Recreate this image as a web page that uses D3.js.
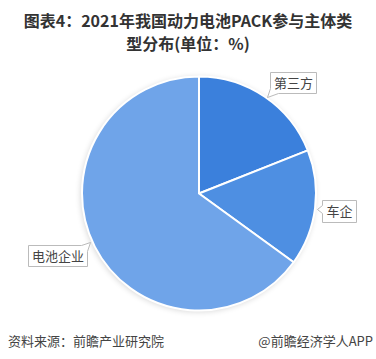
<!DOCTYPE html>
<html>
<head>
<meta charset="utf-8">
<script src="https://cdn.jsdelivr.net/npm/d3@7"></script>
<style>
  html, body { margin: 0; padding: 0; background: #fff; }
  svg { display: block; }
</style>
</head>
<body>
<svg id="chart" width="376" height="359"></svg>
<script>
// Share of participants in 2021 power-battery PACK market (%)
const categories = ["第三方", "车企", "电池企业"];
const shares = [19, 16, 65];
const colors = ["#3b80dc", "#4e8fe2", "#6fa4e9"];

const svg = d3.select("#chart");
const cx = 199, cy = 193.5, R = 117;
const font = "'Noto Sans CJK SC', 'Noto Sans', sans-serif";

// Title (two lines)
const title = svg.append("g")
  .attr("font-family", font)
  .attr("font-weight", "bold")
  .attr("font-size", 16)
  .attr("fill", "#333")
  .attr("text-anchor", "middle");
title.append("text").attr("x", 188).attr("y", 27).text("图表4：2021年我国动力电池PACK参与主体类");
title.append("text").attr("x", 188).attr("y", 50).text("型分布(单位：%)");

// Soft halo behind the pie
const defs = svg.append("defs");
const f = defs.append("filter").attr("id", "halo")
  .attr("x", "-20%").attr("y", "-20%").attr("width", "140%").attr("height", "140%");
f.append("feGaussianBlur").attr("in", "SourceAlpha").attr("stdDeviation", 3).attr("result", "b");
f.append("feOffset").attr("in", "b").attr("dx", -1).attr("dy", 1).attr("result", "o");
f.append("feComponentTransfer").attr("in", "o").attr("result", "s")
  .append("feFuncA").attr("type", "linear").attr("slope", 0.18);
const m = f.append("feMerge");
m.append("feMergeNode").attr("in", "s");
m.append("feMergeNode").attr("in", "SourceGraphic");

const data = categories.map((c, i) => ({ name: c, value: shares[i], color: colors[i] }));
const pie = d3.pie().value(d => d.value).sort(null);
const arc = d3.arc().innerRadius(0).outerRadius(R);
const arcs = pie(data);

const g = svg.append("g").attr("transform", `translate(${cx},${cy})`);
g.append("circle").attr("r", R).attr("fill", "#6fa4e9").attr("filter", "url(#halo)");
g.selectAll("path.slice")
  .data(arcs)
  .join("path")
  .attr("class", "slice")
  .attr("d", arc)
  .attr("fill", d => d.data.color)
  .attr("stroke", "#fff")
  .attr("stroke-width", 2)
  .attr("stroke-linejoin", "round");

// Callout label boxes, one per slice
const boxes = [
  { x: 270.5, y: 72.5, w: 46, h: 21, tail: "bl" },
  { x: 322.5, y: 200.5, w: 34, h: 22, tail: "l" },
  { x: 28.5, y: 245.5, w: 59, h: 21, tail: "r" }
];

const lbl = svg.append("g").attr("font-family", font).attr("font-size", 13).attr("fill", "#444");
arcs.forEach((a, i) => {
  const b = boxes[i];
  let path;
  const x0 = b.x, y0 = b.y, x1 = b.x + b.w, y1 = b.y + b.h;
  if (b.tail === "bl") {
    path = `M${x0},${y0} H${x1} V${y1} H${x0 + 8} L${x0 - 3},${y1 + 4} L${x0},${y1 - 5} Z`;
  } else if (b.tail === "l") {
    path = `M${x0},${y0} H${x1} V${y1} H${x0} V${y0 + 13} L${x0 - 5},${y0 + 9} L${x0},${y0 + 5} Z`;
  } else {
    path = `M${x0},${y0} H${x1 - 6} L${x1 + 3},${y0 - 3} L${x1},${y0 + 6} V${y1} H${x0} Z`;
  }
  lbl.append("path").attr("d", path).attr("fill", "#fff").attr("stroke", "#bbb").attr("stroke-width", 1);
  lbl.append("text")
    .attr("x", b.x + b.w / 2).attr("y", b.y + b.h / 2 + 4.5)
    .attr("text-anchor", "middle")
    .text(a.data.name);
});

// Footer
svg.append("text").attr("x", 8).attr("y", 346)
  .attr("font-family", font).attr("font-size", 13).attr("fill", "#444")
  .text("资料来源：前瞻产业研究院");
svg.append("text").attr("x", 373).attr("y", 346).attr("text-anchor", "end")
  .attr("font-family", font).attr("font-size", 13).attr("fill", "#444")
  .text("@前瞻经济学人APP");
</script>
</body>
</html>
